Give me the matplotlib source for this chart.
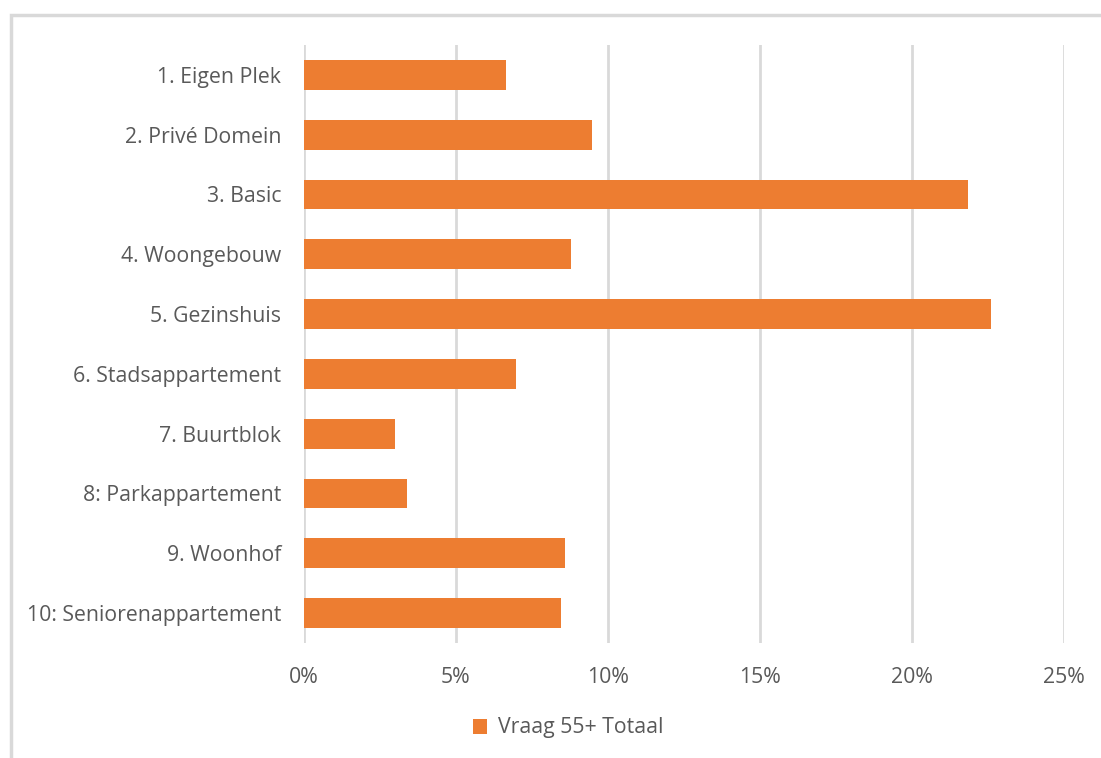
import matplotlib.pyplot as plt
from matplotlib.patches import Rectangle
from matplotlib.ticker import FuncFormatter

labels = ["1. Eigen Plek", "2. Privé Domein", "3. Basic", "4. Woongebouw", "5. Gezinshuis",
          "6. Stadsappartement", "7. Buurtblok", "8: Parkappartement", "9. Woonhof",
          "10: Seniorenappartement"]
values = [6.64, 9.47, 21.84, 8.78, 22.6, 6.97, 2.99, 3.39, 8.59, 8.45]
xticks = [0, 5, 10, 15, 20, 25]

orange = "#ED7D31"
grey = "#595959"
grid = "#D9D9D9"

plt.rcParams['font.family'] = ['Open Sans', 'DejaVu Sans']

fig = plt.figure(figsize=(11.01, 7.58), dpi=100)
ax = fig.add_axes([304/1101, 1 - 643/758, 760/1101, 598/758])

y = list(range(len(labels)))
ax.barh(y, values, height=0.5, color=orange, zorder=3, label="Vraag 55+ Totaal")
ax.set_ylim(len(labels) - 0.5, -0.5)
ax.set_xlim(0, 25)
ax.set_yticks(y)
ax.set_yticklabels(labels, fontsize=15.3, color=grey)
ax.set_xticks(xticks)
ax.xaxis.set_major_formatter(FuncFormatter(lambda v, p: f"{v:.0f}%"))
ax.tick_params(axis='x', labelsize=15.3, labelcolor=grey, length=0, pad=17)
ax.tick_params(axis='y', length=0, pad=16.5)
ax.grid(axis='x', color=grid, linewidth=2, zorder=0)
for s in ax.spines.values():
    s.set_visible(False)

fig.legend(loc='center', bbox_to_anchor=(568/1101, 1 - 728/758), frameon=False,
           fontsize=15.3, labelcolor=grey, handlelength=0.7, handleheight=0.7,
           handletextpad=0.5)

fig.patches.append(Rectangle((11/1101, -0.1), 1.2, 1 - 15/758 + 0.1, transform=fig.transFigure,
                             fill=False, edgecolor=grid, linewidth=2.5))

fig.savefig("out.png", dpi=100)
